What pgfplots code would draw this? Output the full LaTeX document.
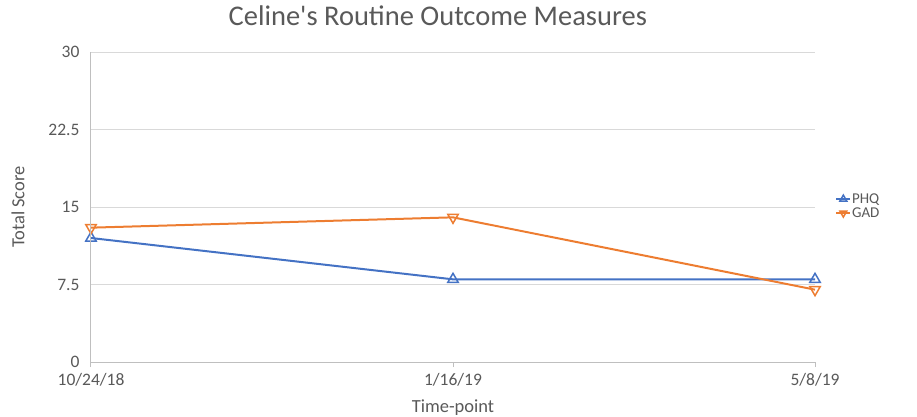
\documentclass[border=0pt]{standalone}
\usepackage{pgfplots}
\pgfplotsset{compat=1.18}
\usepackage{fontspec}
\setmainfont{Carlito}
\newfontfamily\plainfont{Carlito}
\definecolor{phq}{HTML}{4472C4}
\definecolor{gad}{HTML}{ED7D31}
\definecolor{txt}{HTML}{595959}
\definecolor{grid}{HTML}{D9D9D9}
\definecolor{axl}{HTML}{BFBFBF}
\begin{document}
\begin{tikzpicture}
\path[use as bounding box] (-91pt,-54pt) rectangle (826pt,362pt);
\begin{axis}[
  at={(0,0)}, anchor=south west,
  scale only axis, width=724pt, height=310pt,
  xmin=0, xmax=2, ymin=0, ymax=30,
  xtick={0,1,2}, xticklabels={10/24/18,1/16/19,5/8/19},
  ytick={0,7.5,15,22.5,30},
  yticklabels={0,7.5,15,22.5,30},
  xmajorgrids=false, ymajorgrids=true,
  y grid style={grid, line width=1pt},
  axis line style={draw=none},
  xtick pos=bottom, xtick align=outside,
  x tick style={axl, line width=1pt},
  ytick style={draw=none},
  major tick length=5pt,
  ticklabel style={font=\fontsize{17.5}{20}\selectfont, text=txt},
  yticklabel style={xshift=-8pt},
  xticklabel style={yshift=-3pt},
  title={\plainfont Celine's Routine Outcome Measures},
  title style={at={(0.479,1.097)}, anchor=center, font=\fontsize{28.5}{31}\selectfont, text=txt},
  xlabel={Time-point},
  xlabel style={at={(0.5,-0.148)}, anchor=center, font=\fontsize{18.5}{21}\selectfont, text=txt},
  ylabel={Total Score},
  ylabel style={at={(-0.1008,0.5)}, anchor=center, font=\fontsize{18.5}{21}\selectfont, text=txt},
  legend style={at={(1.024,0.503)}, anchor=west, draw=none, fill=none,
    font=\fontsize{15}{15}\selectfont, text=txt, row sep=0pt,
    nodes={inner sep=1pt, text height=10pt, text depth=2pt}},
  legend cell align=left,
  legend image code/.code={
    \draw[mark repeat=2, mark phase=2, mark size=4pt, line width=1.5pt]
      plot coordinates {(0pt,0pt) (7pt,0pt) (14pt,0pt)};},
  clip=false,
  after end axis/.code={
    \draw[axl, line width=1pt] (rel axis cs:0,1) -- (rel axis cs:0,0) -- (rel axis cs:1,0);
  },
]
\addplot[phq, line width=2pt, mark=triangle, mark size=6pt, mark options={fill=white, line width=1.5pt}]
  coordinates {(0,12) (1,8) (2,8)};
\addlegendentry{PHQ}
\addplot[gad, line width=2pt, mark=triangle, mark size=6pt, mark options={fill=white, line width=1.5pt, rotate=180}]
  coordinates {(0,13) (1,14) (2,7)};
\addlegendentry{GAD}
\end{axis}
\end{tikzpicture}
\end{document}
